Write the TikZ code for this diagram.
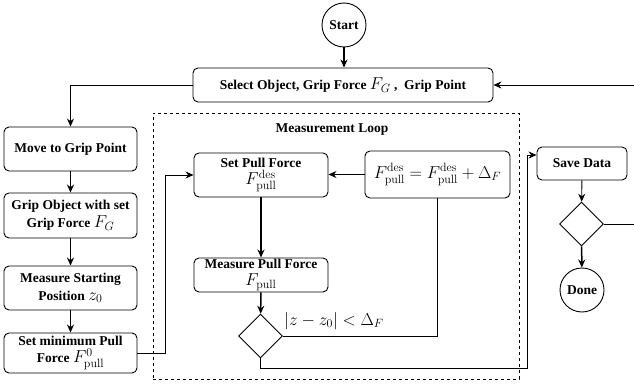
\documentclass[tikz,border=0pt]{standalone}
\usepackage{amsmath}
\usepackage[no-math]{fontspec}
\setmainfont{Liberation Serif}
\usepackage{tikz}
\usetikzlibrary{shapes.geometric,arrows.meta}
\def\mth#1{{\fontsize{18}{17}\selectfont$#1$}}
\def\pull{\mathrm{pull}}
\def\des{\mathrm{des}}
\tikzstyle{txt}=[font=\fontsize{13.5}{17.5}\selectfont\bfseries]
\tikzstyle{block}=[txt,draw,rounded corners=5pt,line width=0.9pt,align=center,inner sep=1pt]
\tikzstyle{leftblock}=[block,minimum width=133pt]
\tikzstyle{loopblock}=[block,minimum width=134pt]
\tikzstyle{term}=[txt,draw,circle,line width=0.9pt,minimum size=44pt,inner sep=0pt]
\tikzstyle{decide}=[draw,diamond,line width=0.9pt,minimum width=44pt,minimum height=44pt,inner sep=0pt]
\tikzstyle{wire}=[line width=0.9pt]
\tikzstyle{flow}=[wire,-{Stealth[length=8pt,width=7pt]}]
\tikzstyle{flowthick}=[flow,line width=1.5pt]

\begin{document}
\begin{tikzpicture}[x=1pt,y=-1pt]
    \useasboundingbox (0,0) rectangle (634,385);
    \clip (0,0) rectangle (634,385);
    % measurement loop frame
    \node[draw,dashed,line width=0.9pt,minimum width=366pt,minimum height=266pt] (loop) at (336,246) {};
    \node[txt] (looplabel) at (332,130) {Measurement Loop};
    % top
    \node[term] (start) at (344,25) {Start};
    \node[block,minimum width=300pt,minimum height=34pt] (select) at (343,85) {Select Object, Grip Force \mth{F_G} ,\ \ Grip Point};
    % left column
    \node[leftblock,minimum height=44pt] (move) at (70.5,149) {Move to Grip Point};
    \node[leftblock,minimum height=45pt] (grip) at (70.5,215.5) {Grip Object with set\\ Grip Force \mth{F_G}};
    \node[leftblock,minimum height=44pt] (zstart) at (70.5,288) {Measure Starting\\ Position \mth{z_0}};
    \node[leftblock,minimum height=40pt] (minpull) at (70.5,353) {Set minimum Pull\\ Force \mth{F^0_\pull}};
    % loop
    \node[loopblock,minimum height=44pt] (setpull) at (261,175) {Set Pull Force\\ \mth{F^\des_\pull}};
    \node[loopblock,minimum height=34pt] (measpull) at (261,275) {Measure Pull Force\\ \mth{F_\pull}};
    \node[block,minimum width=145pt,minimum height=47pt] (update) at (437.5,174.5) {\mth{F^\des_\pull = F^\des_\pull + \Delta_F}};
    \node[decide] (dec1) at (260.5,336) {};
    \node (cond) at (334,321) {\mth{|z-z_0| < \Delta_F}};
    % right column
    \node[block,minimum width=90pt,minimum height=33pt] (save) at (582,163.5) {Save Data};
    \node[decide] (dec2) at (581.5,224) {};
    \node[term] (done) at (582,290) {Done};
    \coordinate (j1) at (165,0);
    \coordinate (j2) at (527,368);
    \coordinate (j3) at (640,0);
    % connectors
    \draw[flowthick] (start) -- (start |- select.north);
    \draw[flow] (select.west) -| (move.north);
    \draw[flowthick] (move) -- (grip);
    \draw[flowthick] (grip) -- (zstart);
    \draw[flowthick] (zstart) -- (minpull);
    \draw[flow] (minpull.east) -- (minpull.east -| j1) |- (setpull.west);
    \draw[flowthick] (setpull) -- (measpull);
    \draw[flowthick] (measpull) -- (dec1);
    \draw[flow] (update.west) -- (update.west -| setpull.east);
    \draw[wire] (dec1.east) -| (update.south);
    \draw[flow] (dec1.south) |- (j2) |- ([yshift=8.5pt]save.west);
    \draw[flow] (save) -- (dec2);
    \draw[flowthick] (dec2) -- (done);
    \draw[flow] (dec2.east) -| (j3) |- (select.east);
\end{tikzpicture}
\end{document}
